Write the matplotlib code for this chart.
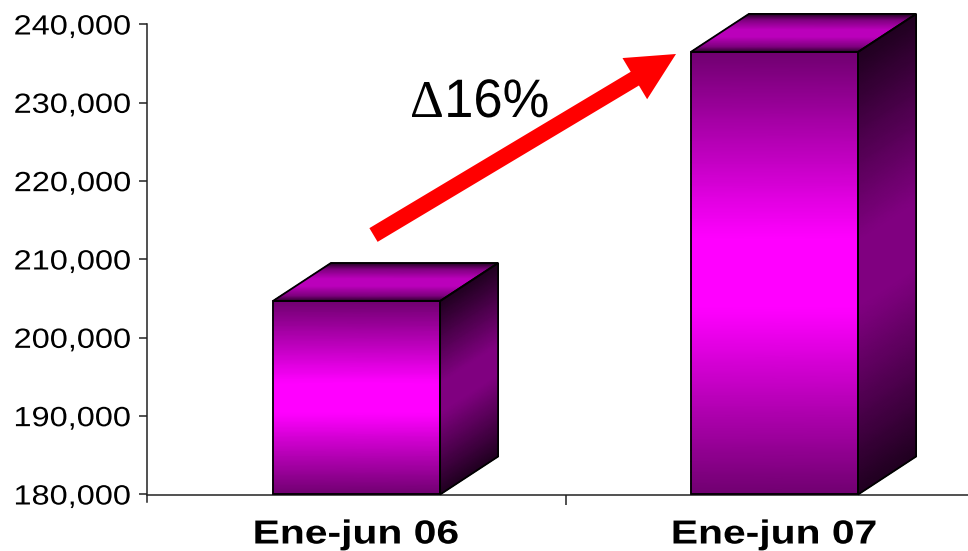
import numpy as np
import matplotlib

matplotlib.use("Agg")
import matplotlib.pyplot as plt
from matplotlib.colors import LinearSegmentedColormap
from matplotlib.patches import FancyArrow, Polygon
from matplotlib.patheffects import AbstractPathEffect
from matplotlib.ticker import FuncFormatter
from matplotlib.transforms import Affine2D

# Ventas por periodo
categories = ["Ene-jun 06", "Ene-jun 07"]
values = [204700, 236500]
y_ticks = [180000, 190000, 200000, 210000, 220000, 230000, 240000]
change_label = "16%"

WIDTH, HEIGHT = 968, 551
BAR_WIDTH = 0.4
DEPTH_PX = (58, 38)

plt.rcParams["font.family"] = ["Liberation Sans", "DejaVu Sans"]

front_cmap = LinearSegmentedColormap.from_list(
    "front", [(0, "#700070"), (0.42, "#ff00ff"), (0.58, "#ff00ff"), (1, "#700070")]
)
side_cmap = LinearSegmentedColormap.from_list(
    "side", [(0, "#200020"), (0.42, "#800080"), (0.58, "#800080"), (1, "#200020")]
)
top_cmap = LinearSegmentedColormap.from_list(
    "top",
    [
        (0, "#280028"),
        (0.15, "#800080"),
        (0.4, "#bb00bb"),
        (0.6, "#bb00bb"),
        (0.85, "#800080"),
        (1, "#280028"),
    ],
)


class StretchX(AbstractPathEffect):
    """Widen drawn text horizontally around a fixed pixel column."""

    def __init__(self, factor, anchor):
        super().__init__()
        self.factor = factor
        self.anchor = anchor

    def draw_path(self, renderer, gc, tpath, affine, rgbFace=None):
        stretch = Affine2D().translate(-self.anchor, 0).scale(self.factor, 1).translate(self.anchor, 0)
        renderer.draw_path(gc, tpath, affine + stretch, rgbFace)


def shade_face(ax, corners, cmap):
    """Fill a four sided face with a gradient running from its lower to upper edge."""
    (x0, y0), (x1, y1), (x2, y2), (x3, y3) = corners
    t = np.linspace(0, 1, 41)
    xs = np.column_stack([x0 + (x3 - x0) * t, x1 + (x2 - x1) * t])
    ys = np.column_stack([y0 + (y3 - y0) * t, y1 + (y2 - y1) * t])
    colors = np.column_stack([t, t])
    ax.pcolormesh(
        xs, ys, colors, cmap=cmap, vmin=0, vmax=1, shading="gouraud",
        clip_on=False, zorder=3,
    )
    ax.add_patch(
        Polygon(
            corners, closed=True, fill=False, edgecolor="black", linewidth=1.3,
            clip_on=False, zorder=4,
        )
    )


def draw_bar(ax, center, value, dx, dy):
    left = center - BAR_WIDTH / 2
    right = center + BAR_WIDTH / 2
    base = y_ticks[0]

    shade_face(ax, [(left, base), (right, base), (right, value), (left, value)], front_cmap)
    shade_face(
        ax,
        [(right, base), (right + dx, base + dy), (right + dx, value + dy), (right, value)],
        side_cmap,
    )
    shade_face(
        ax,
        [(left, value), (right, value), (right + dx, value + dy), (left + dx, value + dy)],
        top_cmap,
    )


fig = plt.figure(figsize=(WIDTH / 100, HEIGHT / 100), dpi=100)
ax = fig.add_axes([147 / WIDTH, 1 - 494.5 / HEIGHT, (WIDTH - 147) / WIDTH, 470 / HEIGHT])

# One category step spans 418 px
ax.set_xlim(-209.5 / 418, (WIDTH - 356.5) / 418)
ax.set_ylim(y_ticks[0], y_ticks[-1])

dx = DEPTH_PX[0] / 418
dy = DEPTH_PX[1] / 470 * (y_ticks[-1] - y_ticks[0])
for i, value in enumerate(values):
    draw_bar(ax, i, value, dx, dy)

for side in ["top", "right"]:
    ax.spines[side].set_visible(False)
for side in ["left", "bottom"]:
    ax.spines[side].set_linewidth(1.1)
    ax.spines[side].set_color("#222222")
ax.spines["left"].set_bounds(y_ticks[0] - 900, y_ticks[-1])
ax.spines["left"].set_zorder(1)

ax.set_yticks(y_ticks)
ax.yaxis.set_major_formatter(FuncFormatter(lambda v, _: f"{int(v):,}"))
ax.tick_params(axis="y", length=6, width=1.1, pad=5, labelsize=20, color="#222222")

ax.set_xticks(range(len(categories)))
ax.set_xticklabels(categories, fontsize=24, fontweight="bold")
ax.tick_params(axis="x", length=0, pad=18)
ax.set_xticks([0.5], minor=True)
ax.tick_params(axis="x", which="minor", length=7, width=1.1, color="#222222")

# The axis fonts run wider than their height, stretch them around their anchors
for label in ax.get_yticklabels():
    label.set_path_effects([StretchX(1.17, 134)])
for label, anchor in zip(ax.get_xticklabels(), [357.5, 775]):
    label.set_path_effects([StretchX(1.225, anchor)])

# Growth arrow and label, placed in pixels from the top left corner
pixels = Affine2D().scale(1, -1).translate(0, HEIGHT)
fig.add_artist(
    FancyArrow(
        373.5, 235, 302.5, -181, width=16, head_width=48, head_length=48,
        length_includes_head=True, color="#ff0000", linewidth=0, transform=pixels,
    )
)
fig.text(409.5 / WIDTH, 1 - 117 / HEIGHT, "\u0394", fontsize=38, family="Liberation Serif",
         ha="left", va="baseline")
delta_text = fig.text(441 / WIDTH, 1 - 117 / HEIGHT, change_label, fontsize=39,
                      ha="left", va="baseline")
delta_text.set_path_effects([StretchX(0.97, 547)])

fig.savefig("out.png", dpi=100)
